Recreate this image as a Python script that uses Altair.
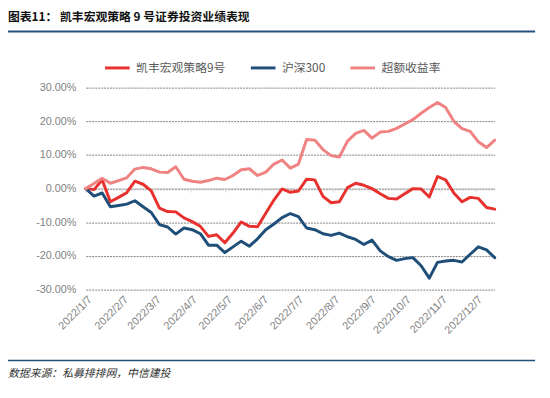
import altair as alt
import pandas as pd

# ---- data (weekly, Fridays, 2022-01-07 .. 2022-12-23), values in % ----
dates = pd.date_range("2022-01-07", periods=51, freq="7D").strftime("%Y-%m-%dT00:00:00").tolist()

fund = [0.0, -0.3, 2.6, -3.9, -2.6, -1.2, 2.2, 1.3, -0.7, -5.8,
        -6.8, -6.9, -8.7, -9.8, -11.2, -14.2, -13.7, -16.1, -13.2, -9.9,
        -11.2, -11.3, -7.3, -3.4, -0.1, -1.1, -0.7, 2.8, 2.6, -2.3,
        -4.2, -3.9, 0.3, 1.6, 1.0, 0.0, -1.5, -2.9, -3.1, -1.5,
        0.0, -0.1, -2.5, 3.6, 2.6, -1.3, -3.9, -2.6, -2.9, -5.6,
        -6.1]
hs300 = [0.0, -2.2, -1.3, -5.4, -5.0, -4.6, -3.6, -5.4, -7.1, -10.7,
         -11.4, -13.5, -11.7, -12.2, -13.4, -16.8, -16.8, -19.0, -17.3, -15.6,
         -17.1, -14.9, -12.2, -10.5, -8.6, -7.4, -8.3, -11.7, -12.2, -13.4,
         -13.9, -13.2, -14.3, -15.1, -16.6, -15.3, -18.5, -20.2, -21.3, -20.8,
         -20.5, -22.9, -26.6, -21.9, -21.5, -21.3, -21.8, -19.5, -17.3, -18.2,
         -20.5]
excess = [0.0, 1.5, 3.1, 1.6, 2.4, 3.2, 5.8, 6.3, 5.9, 4.9,
          4.8, 6.5, 2.8, 2.2, 1.9, 2.4, 3.1, 2.7, 3.9, 5.6,
          5.9, 3.9, 4.9, 7.3, 8.5, 6.1, 7.3, 14.6, 14.4, 11.6,
          9.8, 9.4, 14.1, 16.4, 17.3, 15.0, 16.8, 17.0, 17.9, 19.2,
          20.5, 22.4, 24.1, 25.6, 24.1, 20.0, 17.8, 17.0, 13.9, 12.2,
          14.4]

series_names = ["凯丰宏观策略9号", "沪深300", "超额收益率"]
series_colors = ["#E8302E", "#1F4E79", "#F08282"]
month_ticks = ["2022-%02d-07T00:00:00" % m for m in range(1, 13)]
y_ticks = [-30, -20, -10, 0, 10, 20, 30]

title_text = "图表11：  凯丰宏观策略 9 号证券投资业绩表现"
source_text = "数据来源：私募排排网，中信建投"

rows = []
for name, vals in zip(series_names, [fund, hs300, excess]):
    for d, v in zip(dates, vals):
        rows.append({"date": d, "v": v, "series": name})
df = pd.DataFrame(rows)

months_df = pd.DataFrame({"date": month_ticks, "v": [0] * 12, "v2": [-1.2] * 12})
zero_df = pd.DataFrame({"v": [0]})

xdef = alt.X(
    "date:T", title=None,
    scale=alt.Scale(domain=[alt.DateTime(year=2022, month=1, date=7),
                            alt.DateTime(year=2022, month=12, date=23)], nice=False),
    axis=alt.Axis(values=[alt.DateTime(year=2022, month=m, date=7) for m in range(1, 13)],
                  format="%Y/%-m/%-d", labelAngle=-45, domain=False, ticks=False, grid=False,
                  labelFontSize=11, labelColor="#7F7F7F", labelFont="Liberation Sans",
                  labelPadding=4, labelOverlap=False, labelBound=False, labelFlush=False),
)
ydef = alt.Y(
    "v:Q", title=None,
    scale=alt.Scale(domain=[-30, 30], nice=False, zero=False),
    axis=alt.Axis(values=y_ticks,
                  labelExpr="replace(format(datum.value, '.2f'), '−', '-') + '%'",
                  domain=False, ticks=False, grid=True, gridColor="#808080",
                  gridDash=[2, 1], gridWidth=1, labelFontSize=11, labelColor="#7F7F7F",
                  labelPadding=10, labelFont="Liberation Sans"),
)

zero_rule = alt.Chart(zero_df).mark_rule(color="#D9D9D9", strokeWidth=1.2).encode(y=ydef)
month_rules = alt.Chart(months_df).mark_rule(color="#D9D9D9", strokeWidth=1).encode(
    x=xdef, y=ydef, y2="v2:Q")

lines = alt.Chart(df).mark_line(strokeWidth=3, strokeJoin="round", strokeCap="round").encode(
    x=xdef, y=ydef,
    color=alt.Color("series:N",
                    scale=alt.Scale(domain=series_names, range=series_colors),
                    sort=series_names,
                    legend=alt.Legend(orient="none", legendX=18, legendY=-34,
                                      direction="horizontal", title=None,
                                      symbolType="stroke", symbolSize=625,
                                      symbolStrokeWidth=3, labelFontSize=12,
                                      labelColor="#595959", labelFont="Noto Sans CJK SC",
                                      columnPadding=19, labelOffset=5, padding=0)),
    order=alt.Order("date:T"),
)

title = alt.Chart(pd.DataFrame({"t": [title_text]})).mark_text(
    align="left", baseline="middle", fontSize=12, fontWeight="bold",
    font="Noto Sans CJK SC", color="#111111").encode(
    x=alt.value(-79), y=alt.value(-72), text="t:N")
top_rule = alt.Chart(pd.DataFrame({"t": [0]})).mark_rule(color="#24507E", strokeWidth=2).encode(
    x=alt.value(-79), x2=alt.value(456), y=alt.value(-57))
bottom_rule = alt.Chart(pd.DataFrame({"t": [0]})).mark_rule(color="#24507E", strokeWidth=1.5).encode(
    x=alt.value(-79), x2=alt.value(456), y=alt.value(277))
source = alt.Chart(pd.DataFrame({"t": [source_text]})).mark_text(
    align="left", baseline="middle", fontSize=11, fontStyle="italic",
    font="Noto Sans CJK SC", color="#333333").encode(
    x=alt.value(-79), y=alt.value(291), text="t:N")

chart = alt.layer(zero_rule, month_rules, lines, title, top_rule, bottom_rule, source).properties(
    width=415, height=205,
    autosize=alt.AutoSizeParams(type="none"),
    padding={"left": 79, "top": 78, "right": 48, "bottom": 95},
    background="white",
).configure_view(stroke=None)

chart.save("out.html", embed_options={"renderer": "svg", "actions": False})
